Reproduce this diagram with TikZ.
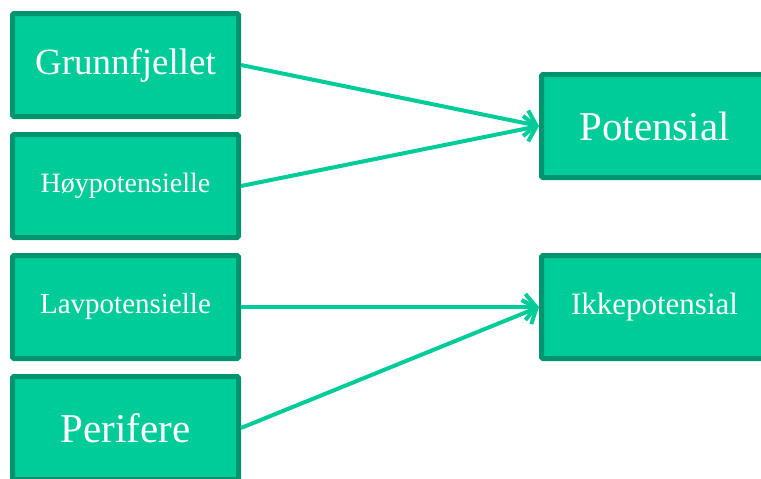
\documentclass[tikz,border=0pt]{standalone}
\usepackage{fontspec}
\setmainfont{Liberation Serif}
\usepackage{xcolor}
\usepackage{tikz}
\usetikzlibrary{shapes,arrows.meta,positioning}
\definecolor{boxfill}{HTML}{00CC99}
\definecolor{boxline}{HTML}{00956E}

\begin{document}
\begin{tikzpicture}[>={Straight Barb[length=11pt,width=26pt]},node distance=13pt,nodes={rectangle,fill=boxfill,draw=boxline,line width=5pt,rounded corners=1.5pt,text=white,minimum width=226pt,minimum height=103pt}]
 \useasboundingbox (0,0) rectangle (761pt,-479pt);
 \node (g) at (125.5pt,-65pt) {\fontsize{37}{40}\selectfont Grunnfjellet};
 \node (h) [below = of g] {\fontsize{28}{32}\selectfont Høypotensielle};
 \node (l) [below = of h] {\fontsize{29}{32}\selectfont Lavpotensielle};
 \node (p) [below = of l] {\fontsize{41}{44}\selectfont Perifere};
 \node (i) [right = 298pt of l] {\fontsize{31}{34}\selectfont Ikkepotensial};
 \node (pot) [above = 73pt of i] {\fontsize{41}{44}\selectfont Potensial};

  \path[every edge/.style={draw=boxfill,line width=4pt,->}]
  (g.east) edge (pot.west)
  (h.east) edge (pot.west)
  (l.east) edge (i.west)
  (p.east) edge (i.west)
  ;
\end{tikzpicture}
\end{document}
